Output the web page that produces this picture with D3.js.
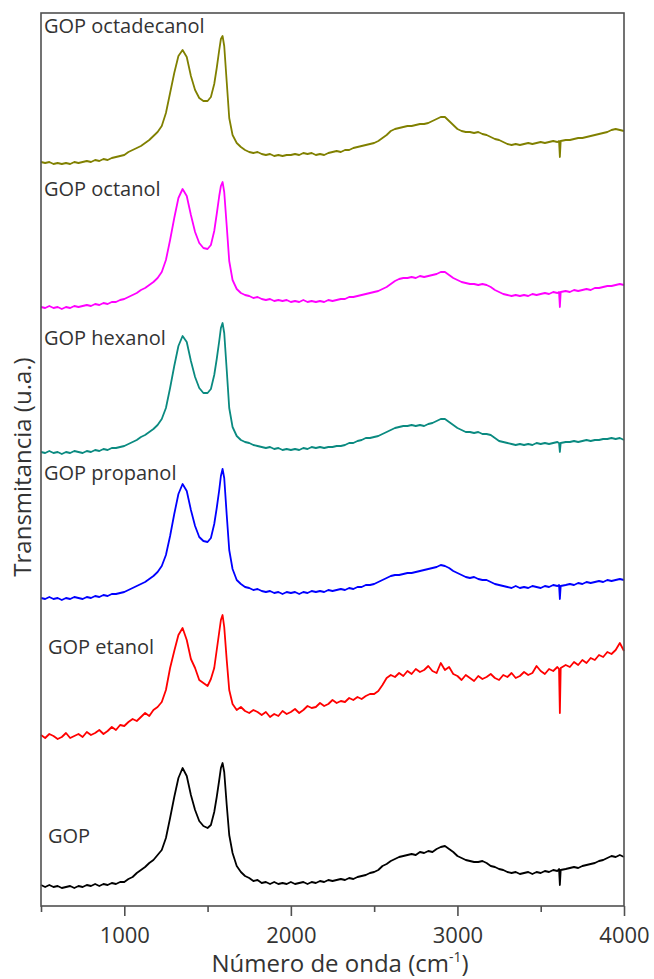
<!DOCTYPE html>
<html>
<head>
<meta charset="utf-8">
<script src="https://cdn.jsdelivr.net/npm/d3@7"></script>
<style>
  body { margin: 0; background: #fff; }
  text { font-family: "Open Sans", sans-serif; }
</style>
</head>
<body>
<div id="chart"></div>
<script>
/* CONSTANTS AND GLOBALS */
const width = 654,
  height = 979,
  margin = { top: 13, right: 30, bottom: 73, left: 41 };

/* DATA */
// Raman shift (cm-1), shared by every spectrum
const wavenumbers = [500,525,550,575,600,625,650,675,700,725,750,775,800,825,850,875,900,925,950,975,
  1000,1025,1050,1075,1100,1125,1150,1175,1200,1225,1250,1275,1300,1325,1350,1375,1400,1425,1450,1475,
  1500,1520,1540,1555,1570,1580,1590,1600,1615,1630,1650,1675,1700,1725,1750,1775,
  1800,1825,1850,1875,1900,1925,1950,1975,
  2000,2025,2050,2075,2100,2125,2150,2175,2200,2225,2250,2275,2300,2325,2350,2375,2400,2425,2450,2475,
  2500,2525,2550,2575,2600,2625,2650,2675,2700,2725,2750,2775,2800,2825,2850,2875,2900,2925,2950,2975,
  3000,3025,3050,3075,3100,3125,3150,3175,3200,3225,3250,3275,3300,3325,3350,3375,3400,3425,3450,3475,
  3500,3525,3550,3575,3600,3610,3615,3620,3650,3675,3700,3725,3750,3775,
  3800,3825,3850,3875,3900,3925,3950,3975,4000];

// intensities (u.a.), already stacked with their offsets
const gop = [2.1,1.9,2.1,1.9,2.0,1.8,1.9,2.0,1.8,2.0,1.9,2.1,2.0,2.2,2.0,2.2,2.1,2.3,2.2,2.4,
  2.4,2.7,2.9,3.3,3.6,3.9,4.3,4.6,5.1,5.6,6.8,8.8,10.9,12.8,13.8,13.0,11.1,9.6,8.5,8.0,
  7.8,8.1,9.4,10.9,12.6,13.8,14.3,13.4,10.1,7.1,5.3,4.0,3.4,3.0,2.8,2.5,
  2.6,2.3,2.4,2.2,2.4,2.2,2.3,2.2,
  2.4,2.2,2.3,2.4,2.2,2.4,2.3,2.5,2.4,2.6,2.5,2.6,2.7,2.6,2.8,2.7,2.9,3.0,3.1,3.3,
  3.4,3.6,4.0,4.2,4.5,4.7,4.9,5.0,5.1,5.2,5.1,5.4,5.3,5.5,5.4,5.7,5.9,6.0,5.7,5.4,
  5.0,4.8,4.6,4.5,4.4,4.4,4.5,4.3,4.0,3.9,3.7,3.6,3.4,3.3,3.4,3.2,3.3,3.4,3.2,3.4,
  3.3,3.5,3.4,3.6,3.5,3.7,2.1,3.6,3.7,3.8,3.9,3.8,4.0,4.1,
  4.2,4.3,4.5,4.6,4.8,5.0,4.9,5.1,4.9];

const etanol = [17.1,16.8,17.2,17.0,16.7,16.9,17.3,16.8,17.0,17.2,16.9,17.4,17.1,17.3,17.6,17.2,17.5,17.9,17.6,18.1,
  18.0,18.4,18.7,18.5,18.9,19.3,19.0,19.6,19.9,20.4,21.6,23.8,25.5,27.1,27.8,26.6,24.7,23.8,22.6,22.3,
  22.0,22.7,23.8,25.6,27.4,28.6,29.1,27.9,24.6,21.6,20.2,19.6,19.9,19.5,19.3,19.6,
  19.4,19.1,19.4,18.9,19.2,19.0,19.5,19.2,
  19.4,19.7,19.3,19.6,20.0,19.8,19.9,20.3,20.0,20.2,20.6,20.3,20.5,20.4,20.8,20.6,20.9,20.7,21.0,21.2,
  21.2,21.5,22.1,22.8,23.1,22.9,23.3,23.0,23.5,23.2,23.7,23.4,23.6,24.0,23.5,23.3,24.3,23.6,23.9,23.2,
  23.0,22.6,23.1,22.8,22.5,23.0,22.7,22.9,23.2,22.8,22.6,23.1,22.9,23.3,22.8,23.0,23.4,23.1,23.3,24.0,
  23.5,23.2,23.7,23.5,23.9,23.7,19.3,23.8,24.1,23.9,24.4,24.1,24.6,24.3,
  24.8,24.6,25.1,24.9,25.4,25.2,25.6,26.3,25.5];

const propanol = [30.8,30.7,30.9,30.7,30.8,30.6,30.8,30.7,30.9,30.8,30.7,30.9,30.8,31.0,30.9,31.1,31.0,31.2,31.2,31.3,
  31.4,31.6,31.8,32.0,32.2,32.4,32.7,33.0,33.4,34.0,35.1,37.0,39.2,41.2,42.2,41.5,39.6,38.0,36.9,36.5,
  36.4,36.8,38.2,39.8,41.6,43.0,43.7,42.8,39.1,35.6,33.7,32.6,32.2,31.9,31.8,31.6,
  31.7,31.5,31.4,31.5,31.3,31.4,31.2,31.4,
  31.3,31.4,31.2,31.4,31.3,31.5,31.4,31.5,31.4,31.6,31.5,31.6,31.7,31.6,31.8,31.7,31.9,31.9,32.1,32.1,
  32.2,32.4,32.6,32.8,33.0,33.1,33.1,33.2,33.3,33.3,33.4,33.5,33.6,33.7,33.8,33.9,34.1,34.0,33.8,33.5,
  33.3,33.1,32.9,32.8,32.9,32.7,32.6,32.6,32.4,32.2,32.1,32.0,31.9,31.8,32.0,31.8,31.9,31.8,32.0,31.9,
  31.8,32.0,31.9,32.1,32.0,32.1,30.7,32.0,32.1,32.2,32.1,32.3,32.2,32.4,
  32.3,32.4,32.5,32.4,32.6,32.5,32.6,32.7,32.6];

const hexanol = [45.4,45.3,45.5,45.3,45.4,45.2,45.4,45.3,45.5,45.4,45.3,45.5,45.4,45.6,45.5,45.7,45.6,45.8,45.8,45.9,
  46.0,46.2,46.4,46.6,46.9,47.1,47.4,47.7,48.1,48.7,49.8,51.8,54.0,56.0,57.0,56.4,54.5,52.9,51.8,51.3,
  51.3,51.7,53.1,54.7,56.5,57.8,58.3,57.3,53.6,49.8,47.9,47.0,46.6,46.4,46.3,46.1,
  46.0,45.9,45.8,45.9,45.7,45.8,45.6,45.7,
  45.6,45.7,45.6,45.8,45.7,45.9,45.8,45.9,45.8,45.9,45.9,46.0,46.0,46.1,46.3,46.3,46.5,46.6,46.8,46.8,
  46.9,47.0,47.2,47.4,47.6,47.8,47.9,48.0,48.0,48.1,48.0,48.1,48.0,48.2,48.3,48.5,48.7,48.7,48.4,48.1,
  47.8,47.6,47.4,47.4,47.3,47.4,47.2,47.2,47.1,46.8,46.5,46.4,46.3,46.2,46.1,46.2,46.1,46.2,46.1,46.3,
  46.2,46.3,46.2,46.3,46.4,46.3,45.4,46.3,46.4,46.4,46.5,46.4,46.5,46.6,
  46.5,46.6,46.6,46.7,46.7,46.8,46.7,46.8,46.6];

const octanol = [59.9,59.8,60.0,59.8,59.9,59.7,59.9,59.8,60.0,59.9,60.0,60.1,60.0,60.2,60.1,60.3,60.2,60.4,60.4,60.6,
  60.7,60.9,61.1,61.3,61.6,61.8,62.1,62.4,62.8,63.4,64.6,66.6,68.8,70.8,71.7,71.0,69.1,67.4,66.3,65.8,
  65.7,66.1,67.5,69.2,71.0,72.0,72.4,71.4,68.0,64.5,62.6,61.7,61.3,61.1,61.0,60.8,
  60.9,60.7,60.6,60.7,60.5,60.6,60.5,60.6,
  60.4,60.5,60.4,60.6,60.4,60.5,60.4,60.5,60.4,60.6,60.5,60.6,60.7,60.7,60.9,60.9,61.0,61.1,61.2,61.3,
  61.4,61.5,61.7,61.9,62.2,62.5,62.7,62.8,62.8,62.9,62.8,63.0,62.9,63.0,63.1,63.2,63.4,63.4,63.1,62.8,
  62.6,62.4,62.3,62.2,62.2,62.1,62.2,62.1,61.9,61.6,61.4,61.2,61.1,61.0,61.1,61.0,61.1,61.0,61.2,61.1,
  61.2,61.3,61.2,61.4,61.3,61.4,59.9,61.4,61.5,61.4,61.6,61.5,61.6,61.7,
  61.6,61.8,61.8,61.9,62.0,62.0,62.1,62.2,62.1];

const octadecanol = [74.4,74.3,74.4,74.2,74.3,74.2,74.3,74.2,74.4,74.3,74.4,74.5,74.4,74.6,74.5,74.7,74.6,74.8,74.9,75.0,
  75.1,75.4,75.6,75.8,76.0,76.3,76.6,77.0,77.4,78.0,79.3,81.3,83.3,85.0,85.6,84.9,83.0,81.6,80.8,80.5,
  80.5,80.9,82.2,83.8,85.6,86.7,87.0,86.0,82.4,78.8,77.1,76.3,75.9,75.6,75.4,75.3,
  75.4,75.2,75.1,75.2,75.0,75.1,75.0,75.1,
  75.1,75.2,75.1,75.3,75.2,75.3,75.1,75.2,75.1,75.3,75.4,75.5,75.4,75.6,75.6,75.8,75.9,76.0,76.1,76.2,
  76.3,76.5,76.8,77.1,77.5,77.7,77.8,77.9,78.0,78.0,78.1,78.2,78.2,78.3,78.5,78.7,78.9,78.9,78.5,78.1,
  77.7,77.5,77.4,77.4,77.3,77.4,77.2,77.1,76.9,76.7,76.6,76.4,76.2,76.1,76.2,76.1,76.2,76.3,76.2,76.3,
  76.4,76.3,76.4,76.5,76.4,76.5,74.9,76.5,76.6,76.6,76.7,76.8,76.8,76.9,
  77.0,77.1,77.2,77.3,77.4,77.6,77.7,77.6,77.5];

const seriesNames = ["GOP", "GOP etanol", "GOP propanol", "GOP hexanol", "GOP octanol", "GOP octadecanol"];
const seriesValues = [gop, etanol, propanol, hexanol, octanol, octadecanol];
const seriesColors = ["#000000", "#ff0000", "#0000ff", "#0a8a80", "#ff00ff", "#808000"];

// where each name is written (wavenumber, u.a.)
const labelX = [542, 542, 518, 518, 518, 518];
const labelY = [6.3, 25.2, 42.6, 56.1, 71.0, 87.3];

const majorTicks = [1000, 2000, 3000, 4000];
const minorTicks = [500, 1500, 2500, 3500];

let svg, xScale, yScale;

function init() {
  xScale = d3.scaleLinear()
    .domain([500, 4000])
    .range([margin.left, width - margin.right]);

  yScale = d3.scaleLinear()
    .domain([0, 89.3])
    .range([height - margin.bottom, margin.top]);

  svg = d3.select("#chart")
    .append("svg")
    .attr("width", width)
    .attr("height", height)
    .style("background", "#fff");

  draw();
}

function draw() {
  const line = d3.line()
    .x(d => xScale(d[0]))
    .y(d => yScale(d[1]));

  const spectra = seriesNames.map((name, i) => ({
    name: name,
    color: seriesColors[i],
    points: wavenumbers.map((w, j) => [w, seriesValues[i][j]])
  }));

  svg.selectAll("path.spectrum")
    .data(spectra)
    .join("path")
    .attr("class", "spectrum")
    .attr("d", d => line(d.points))
    .attr("fill", "none")
    .attr("stroke", d => d.color)
    .attr("stroke-width", 1.8)
    .attr("stroke-linejoin", "round");

  // frame
  svg.append("rect")
    .attr("x", margin.left)
    .attr("y", margin.top)
    .attr("width", width - margin.left - margin.right)
    .attr("height", height - margin.top - margin.bottom)
    .attr("fill", "none")
    .attr("stroke", "#505050")
    .attr("stroke-width", 1.6);

  const xAxis = d3.axisBottom(xScale)
    .tickValues(majorTicks)
    .tickSize(10)
    .tickPadding(11)
    .tickFormat(d3.format("d"));

  const minorAxis = d3.axisBottom(xScale)
    .tickValues(minorTicks)
    .tickSize(6)
    .tickFormat("");

  const gx = svg.append("g")
    .attr("transform", `translate(0, ${height - margin.bottom})`)
    .call(xAxis);
  const gm = svg.append("g")
    .attr("transform", `translate(0, ${height - margin.bottom})`)
    .call(minorAxis);

  [gx, gm].forEach(g => {
    g.select(".domain").remove();
    g.selectAll(".tick line").attr("stroke", "#505050").attr("stroke-width", 1.6);
  });
  gx.selectAll(".tick text")
    .attr("fill", "#333")
    .style("font-size", "22px");

  // axis titles
  const xt = svg.append("text")
    .attr("x", 340)
    .attr("y", 972)
    .attr("text-anchor", "middle")
    .attr("fill", "#333")
    .style("font-size", "24px");
  xt.append("tspan").text("Número de onda (cm");
  xt.append("tspan").attr("dy", -10).style("font-size", "14px").text("-1");
  xt.append("tspan").attr("dy", 10).text(")");

  svg.append("text")
    .attr("transform", "translate(31, 467) rotate(-90)")
    .attr("text-anchor", "middle")
    .attr("fill", "#333")
    .style("font-size", "24px")
    .text("Transmitancia (u.a.)");

  // spectrum names
  svg.selectAll("text.name")
    .data(seriesNames)
    .join("text")
    .attr("class", "name")
    .attr("x", (d, i) => xScale(labelX[i]))
    .attr("y", (d, i) => yScale(labelY[i]))
    .attr("fill", "#333")
    .style("font-size", "20px")
    .text(d => d);
}

init();
</script>
</body>
</html>
